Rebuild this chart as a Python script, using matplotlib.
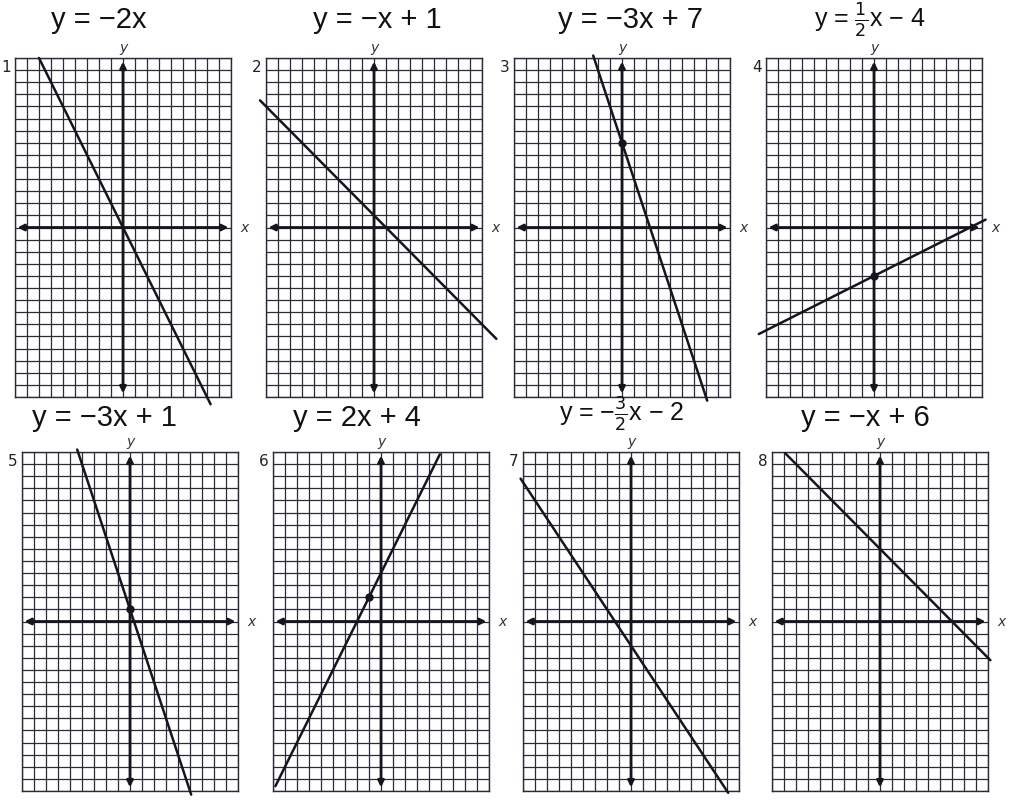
import matplotlib
matplotlib.use('Agg')
import numpy as np
import matplotlib.pyplot as plt

# worksheet: graph each equation (slope, intercept), drawn over an 18 x 28 grid
titles = ['y = −2x', 'y = −x + 1', 'y = −3x + 7', r'y = $\frac{1}{2}$x − 4',
          'y = −3x + 1', 'y = 2x + 4', r'y = −$\frac{3}{2}$x − 2', 'y = −x + 6']
slopes = [-2, -1, -3, 0.5, -3, 2, -1.5, -1]
intercepts = [0, 1, 7, -4, 1, 4, -2, 6]
x_start = [-7.0, -9.5, -2.4, -9.6, -4.4, -8.8, -9.2, -7.9]
x_end = [7.3, 10.2, 7.1, 9.3, 5.1, 4.9, 8.1, 9.2]
dot_x = [None, None, 0, 0, 0, -1, None, None]

W, H = 1009, 801
fig = plt.figure(figsize=(W / 100, H / 100), dpi=100)
fig.patch.set_facecolor('white')

# grid boxes in pixels (left, top), size 216 x 339
lefts = [15, 266, 514, 766, 22, 273, 523, 772]
tops = [58, 58, 58, 58, 452, 452, 452, 452]
gw, gh = 216, 339
# title centre offset from the y-axis / grid top, pixels
title_dx = [-24, 3, 8, -4, -26, -24, -9, -15]
title_dy = [38, 38, 38, 38, 34, 34, 38, 34]

ink = '#151520'
for i in range(8):
    l, t = lefts[i], tops[i]
    ax = fig.add_axes([l / W, 1 - (t + gh) / H, gw / W, gh / H])
    ax.set_xlim(-9, 9)
    ax.set_ylim(-14, 14)
    ax.set_xticks(np.arange(-9, 10))
    ax.set_yticks(np.arange(-14, 15))
    ax.tick_params(length=0, labelbottom=False, labelleft=False)
    ax.grid(True, color='#2a2a38', lw=0.9)
    for s in ax.spines.values():
        s.set_color('#2a2a38')
        s.set_linewidth(1.0)

    # axes with arrowheads
    ax.annotate('', xy=(8.8, 0), xytext=(-8.8, 0),
                arrowprops=dict(arrowstyle='<|-|>', lw=2, color=ink,
                                mutation_scale=9, shrinkA=0, shrinkB=0))
    ax.annotate('', xy=(0, 13.7), xytext=(0, -13.7),
                arrowprops=dict(arrowstyle='<|-|>', lw=2, color=ink,
                                mutation_scale=9, shrinkA=0, shrinkB=0))

    xs = np.array([x_start[i], x_end[i]])
    ax.plot(xs, slopes[i] * xs + intercepts[i], color=ink, lw=1.8,
            clip_on=False, solid_capstyle='round', zorder=5)
    if dot_x[i] is not None:
        ax.plot(dot_x[i], slopes[i] * dot_x[i] + intercepts[i], 'o',
                color=ink, ms=5, zorder=6)

    # labels around the grid
    fig.text((l + gw + 9) / W, 1 - (t + gh / 2) / H, 'x', fontsize=10,
             style='italic', color='#333', ha='left', va='center')
    fig.text((l + gw / 2) / W, 1 - (t - 10) / H, 'y', fontsize=10,
             style='italic', color='#333', ha='center', va='center')
    fig.text((l - 9) / W, 1 - (t + 10) / H, str(i + 1), fontsize=11,
             color='#222', ha='center', va='center')
    fs = 18 if '$' in titles[i] else 21
    fig.text((l + gw / 2 + title_dx[i]) / W, 1 - (t - title_dy[i]) / H,
             titles[i], fontsize=fs, color='#111', ha='center', va='center',
             family='Liberation Sans')

fig.savefig('out.png', dpi=100, facecolor='white')
